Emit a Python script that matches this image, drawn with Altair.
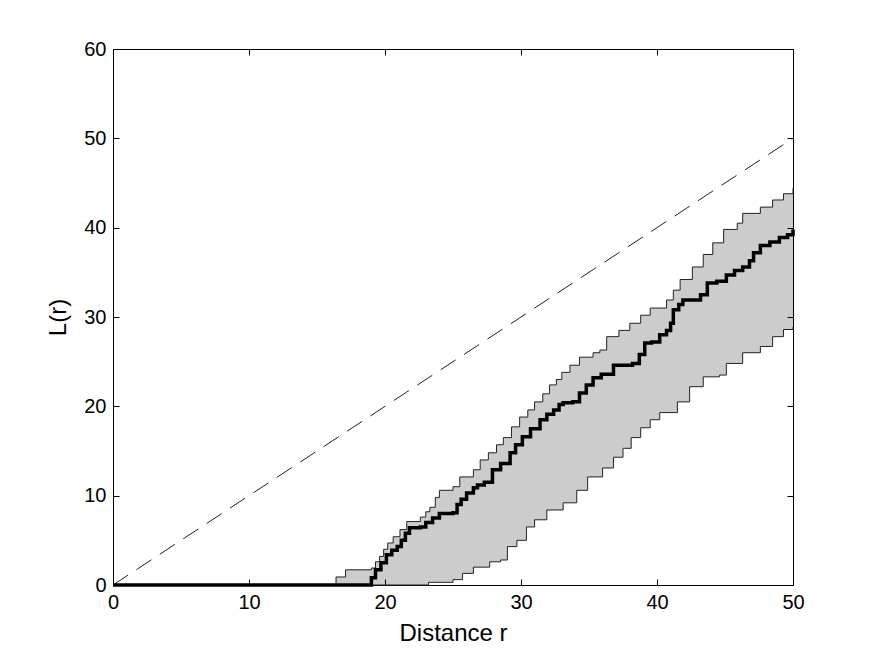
import altair as alt
import pandas as pd

# Observed L(r) (thick black step curve)
obs_r = [0, 18.9, 19.0, 19.3, 19.7, 20.1, 20.5, 20.9, 21.2, 21.5, 21.8, 22.6, 23.0, 23.5, 24.0,
         25.0, 25.3, 25.6, 26.0, 26.5, 26.8, 27.3, 27.9, 28.5, 29.2, 29.6, 30.1, 30.7, 31.4, 31.9,
         32.4, 32.8, 33.1, 33.8, 34.3, 34.8, 35.3, 35.9, 36.8, 38.2, 38.7, 39.1, 39.6, 40.2, 40.7,
         41.0, 41.2, 41.6, 41.9, 43.2, 43.7, 44.4, 45.1, 45.7, 46.3, 46.8, 47.1, 47.6, 48.3, 49.0,
         49.6, 50.0]
obs_L = [0, 0, 0.8, 1.7, 2.5, 3.4, 3.9, 4.3, 5.0, 5.8, 6.4, 6.5, 7.0, 7.5, 8.0,
         8.1, 9.0, 9.6, 10.3, 10.9, 11.2, 11.5, 12.9, 13.6, 14.8, 15.7, 16.6, 17.5, 18.5, 19.1,
         19.6, 20.2, 20.4, 20.5, 21.5, 22.4, 23.2, 23.6, 24.6, 24.8, 25.8, 27.1, 27.2, 28.0, 28.5,
         29.3, 30.8, 31.4, 31.9, 32.5, 33.8, 34.0, 34.7, 35.2, 35.6, 36.3, 37.2, 38.0, 38.4, 38.9,
         39.2, 39.8]

# Upper simulation envelope
up_r = [0, 16.4, 17.1, 19.0, 19.3, 19.6, 19.9, 20.2, 20.6, 21.1, 21.6, 22.6, 23.0, 23.3, 23.7,
        24.0, 25.0, 25.5, 26.5, 27.0, 27.6, 28.2, 28.7, 29.3, 29.9, 30.5, 31.0, 31.6, 32.1, 32.6,
        33.0, 33.6, 34.3, 35.3, 35.8, 36.3, 37.2, 38.0, 38.8, 39.5, 40.7, 41.2, 41.7, 42.6, 43.4,
        44.1, 44.9, 45.9, 46.3, 47.6, 48.5, 49.3, 50.0]
up_L = [0, 0.9, 1.7, 1.9, 2.6, 3.2, 4.0, 4.7, 5.4, 6.2, 7.1, 7.6, 8.2, 8.7, 9.8,
        10.6, 11.0, 12.1, 12.9, 14.0, 14.8, 15.7, 16.5, 17.7, 18.8, 19.6, 20.5, 21.4, 22.4, 23.0,
        23.8, 24.6, 25.5, 26.0, 26.3, 27.8, 28.5, 29.3, 30.2, 31.0, 31.9, 33.0, 34.2, 35.6, 37.0,
        38.3, 39.8, 40.5, 41.6, 42.3, 43.1, 43.8, 44.4]

# Lower simulation envelope
lo_r = [0, 23.2, 25.0, 25.7, 26.5, 27.7, 28.5, 29.0, 29.7, 30.4, 31.0, 31.9, 33.1, 34.1, 34.9,
        36.0, 36.8, 37.5, 38.1, 38.8, 39.5, 40.2, 41.5, 42.4, 43.4, 44.6, 45.1, 46.3, 47.6, 48.5,
        49.3, 50.0]
lo_L = [0, 0.3, 0.6, 1.3, 2.0, 2.6, 2.8, 4.3, 5.0, 6.5, 7.3, 8.4, 9.2, 10.6, 12.1,
        13.1, 14.3, 15.3, 16.5, 17.6, 18.5, 19.3, 20.5, 22.2, 23.3, 23.5, 24.8, 26.0, 26.7, 27.8,
        28.6, 28.9]

# Theoretical line L(r) = r
diag_r = [0, 50]
diag_L = [0, 50]

x_ticks = [0, 10, 20, 30, 40, 50]
y_ticks = [0, 10, 20, 30, 40, 50, 60]

obs = pd.DataFrame({"r": obs_r, "L": obs_L})
up = pd.DataFrame({"r": up_r, "L": up_L})
lo = pd.DataFrame({"r": lo_r, "L": lo_L})
diag = pd.DataFrame({"r": diag_r, "L": diag_L})

FONT = "Liberation Sans"
xs = alt.Scale(domain=[0, 50], nice=False, zero=False)
ys = alt.Scale(domain=[0, 60], nice=False, zero=False)

ax_bottom = alt.Axis(orient="bottom", values=x_ticks, title="Distance r", offset=-6, tickSize=6,
                     domain=False, grid=False, labelPadding=7, labelFlush=False, labelFont=FONT,
                     labelFontSize=20, labelColor="black", tickColor="black", titleFont=FONT,
                     titleFontSize=24, titleFontWeight="normal", titleColor="black",
                     titlePadding=9, zindex=1)
ax_left = alt.Axis(orient="left", values=y_ticks, title="L(r)", offset=-6, tickSize=6,
                   domain=False, grid=False, labelPadding=7, labelFlush=False, labelFont=FONT,
                   labelFontSize=20, labelColor="black", tickColor="black", titleFont=FONT,
                   titleFontSize=24, titleFontWeight="normal", titleColor="black",
                   titlePadding=13, zindex=1)
ax_top = alt.Axis(orient="top", values=x_ticks, title=None, offset=-6, tickSize=6, domain=False,
                  grid=False, labels=False, tickColor="black", zindex=1)
ax_right = alt.Axis(orient="right", values=y_ticks, title=None, offset=-6, tickSize=6,
                    domain=False, grid=False, labels=False, tickColor="black", zindex=1)

upper_area = alt.Chart(up).mark_area(color="#cccccc", interpolate="step-after", opacity=1).encode(
    x=alt.X("r:Q", scale=xs, axis=ax_bottom),
    y=alt.Y("L:Q", scale=ys, axis=ax_left),
)
lower_area = alt.Chart(lo).mark_area(color="white", interpolate="step-after", opacity=1).encode(
    x=alt.X("r:Q", scale=xs, axis=ax_top),
    y=alt.Y("L:Q", scale=ys, axis=ax_right),
)
upper_line = alt.Chart(up).mark_line(color="#222222", strokeWidth=1, interpolate="step-after").encode(
    x=alt.X("r:Q", scale=xs, axis=None),
    y=alt.Y("L:Q", scale=ys, axis=None),
)
lower_line = alt.Chart(lo).mark_line(color="#222222", strokeWidth=1, interpolate="step-after").encode(
    x=alt.X("r:Q", scale=xs, axis=None),
    y=alt.Y("L:Q", scale=ys, axis=None),
)
diag_line = alt.Chart(diag).mark_line(color="#222222", strokeWidth=1, strokeDash=[18, 10]).encode(
    x=alt.X("r:Q", scale=xs, axis=None),
    y=alt.Y("L:Q", scale=ys, axis=None),
)
obs_line = alt.Chart(obs).mark_line(color="black", strokeWidth=3.5, interpolate="step-after").encode(
    x=alt.X("r:Q", scale=xs, axis=None),
    y=alt.Y("L:Q", scale=ys, axis=None),
)

chart = alt.layer(upper_area, lower_area, upper_line, lower_line, diag_line, obs_line).properties(
    width=680,
    height=536,
    padding={"left": 113, "top": 49, "right": 82, "bottom": 74},
    autosize=alt.AutoSizeParams(type="none"),
    background="white",
).configure_view(stroke="black", strokeWidth=1)

chart.save("out.html", embed_options={"renderer": "svg", "actions": False})
